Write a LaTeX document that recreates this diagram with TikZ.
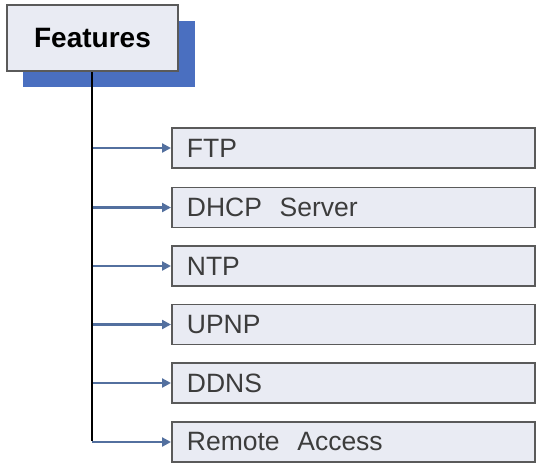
\documentclass[tikz,border=0pt]{standalone}
\usepackage{fontspec}
\setmainfont{Liberation Sans}
\usetikzlibrary{arrows.meta}
\definecolor{boxfill}{HTML}{E9EBF3}
\definecolor{boxline}{HTML}{5A5A5A}
\definecolor{shadowblue}{HTML}{4A6FC0}
\definecolor{arrowblue}{HTML}{53709F}
\definecolor{txt}{HTML}{3C3C3C}
\begin{document}
\begin{tikzpicture}[x=1pt,y=-1pt,
  featbox/.style={draw=boxline, line width=2pt, fill=boxfill, minimum width=171pt, minimum height=66pt, inner sep=0pt, font=\fontsize{28}{30}\selectfont\bfseries, text=black},
  itembox/.style={draw=boxline, line width=1.8pt, fill=boxfill, minimum width=363pt, minimum height=40pt, inner sep=0pt, anchor=west, font=\fontsize{26.5}{28}\selectfont, text=txt, text width=333pt, align=left},
  link/.style={draw=arrowblue, line width=2.2pt, -{Triangle[length=9pt,width=9pt]}}]
\useasboundingbox (0,0) rectangle (540,467);
\fill[white] (0,0) rectangle (540,467);
\fill[shadowblue] (23,21) rectangle (195,87);
\node[featbox] (feat) at (92.5,38) {Features};
\coordinate (bot) at (92,442);
\foreach \n/\y/\t in {a/148/FTP, b/207.5/DHCP\ \ Server, c/266/NTP, d/324.5/UPNP, e/383/DDNS, f/442/Remote\ \ Access}{
  \node[itembox] (\n) at (171,\y) {\t};
}
\foreach \n in {a,b,c,d,e,f}{
  \draw[link] (bot |- \n.west) -- (\n.west);
}
\draw[black, line width=2.4pt] (feat.south -| bot) -- ([yshift=1.1pt]bot);
\end{tikzpicture}
\end{document}
